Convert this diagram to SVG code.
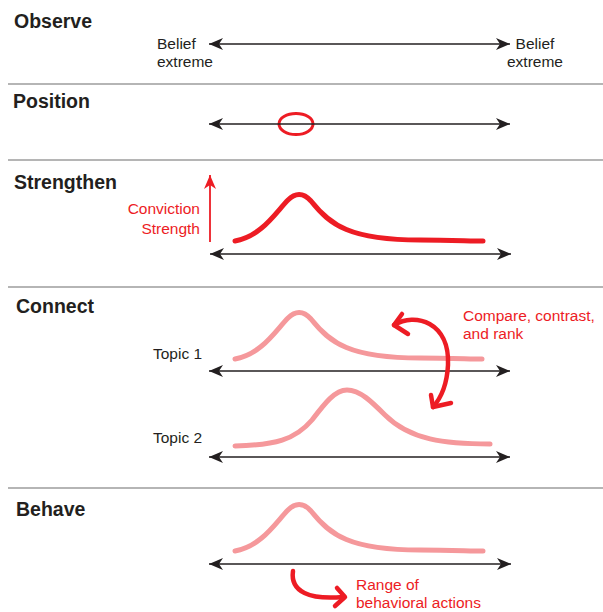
<svg xmlns="http://www.w3.org/2000/svg" width="603" height="612" viewBox="0 0 603 612">
<style>
.title{font-family:"Liberation Sans",Arial,sans-serif;font-weight:bold;font-size:19.5px;fill:#231f20}
.lbl{font-family:"Liberation Sans",Arial,sans-serif;font-size:15.5px;fill:#231f20}
.red{font-family:"Liberation Sans",Arial,sans-serif;font-size:15.5px;fill:#ed1c24}
.sep{stroke:#b5b5b5;stroke-width:2}
.axis{stroke:#231f20;stroke-width:1.6;fill:none;marker-start:url(#ah);marker-end:url(#ah)}
.curve{fill:none;stroke:#ed1c24;stroke-width:5;stroke-linecap:round}
.pink{fill:none;stroke:#f5989b;stroke-width:5;stroke-linecap:round}
.rarrow{fill:none;stroke:#ed1c24;stroke-width:4.5;stroke-linecap:round;stroke-linejoin:round}
</style>
<defs>
<marker id="ah" viewBox="-15 -7 16 14" refX="0" refY="0" markerWidth="16" markerHeight="14" orient="auto-start-reverse" markerUnits="userSpaceOnUse">
<path d="M0,0 L-14,-6 L-10,0 L-14,6 Z" fill="#231f20"/>
</marker>
<marker id="rah" viewBox="-15 -7 16 14" refX="0" refY="0" markerWidth="16" markerHeight="14" orient="auto" markerUnits="userSpaceOnUse">
<path d="M0,0 L-14,-6 L-10,0 L-14,6 Z" fill="#ed1c24"/>
</marker>
</defs>

<g id="separators">
<line class="sep" x1="8" y1="84" x2="603" y2="84"/>
<line class="sep" x1="8" y1="160" x2="603" y2="160"/>
<line class="sep" x1="8" y1="287" x2="603" y2="287"/>
<line class="sep" x1="8" y1="488" x2="603" y2="488"/>
</g>

<g id="observe">
<text class="title" x="14" y="28">Observe</text>
<text class="lbl" x="157" y="49">Belief</text>
<text class="lbl" x="157" y="67">extreme</text>
<text class="lbl" x="535" y="49" text-anchor="middle">Belief</text>
<text class="lbl" x="535" y="67" text-anchor="middle">extreme</text>
</g>

<g id="position">
<text class="title" x="13" y="108">Position</text>
<ellipse cx="296" cy="124" rx="17" ry="10.5" fill="none" stroke="#ed1c24" stroke-width="3"/>
</g>

<g id="strengthen">
<text class="title" x="14" y="189">Strengthen</text>
<text class="red" x="200" y="214" text-anchor="end">Conviction</text>
<text class="red" x="200" y="234" text-anchor="end">Strength</text>
<path class="curve" d="M235,241 C262,236 276,212 288,200 C295,193 303,192 311,201 C330,225 350,240 420,240 C450,240 470,241 483,241"/>
</g>

<g id="connect">
<text class="title" x="16" y="313">Connect</text>
<text class="lbl" x="153" y="359">Topic 1</text>
<text class="lbl" x="153" y="443">Topic 2</text>
<path class="pink" d="M235,359 C262,354 276,330 288,318 C295,311 303,310 311,319 C330,343 350,358 420,358 C450,358 470,359 482,359"/>
<path class="pink" d="M235,446 C275,445 295,440 312,420 C325,403 335,390 347,390 C360,390 372,402 385,415 C410,440 445,444 490,444"/>
<text class="red" x="463" y="321">Compare, contrast,</text>
<text class="red" x="463" y="339">and rank</text>
</g>

<g id="behave">
<text class="title" x="16" y="516">Behave</text>
<path class="pink" d="M235,551 C262,546 276,522 288,510 C295,503 303,502 311,511 C330,535 350,550 420,550 C450,550 470,551 483,551"/>
<text class="red" x="356" y="590">Range of</text>
<text class="red" x="356" y="608">behavioral actions</text>
</g>

<g id="connectors">
<line class="axis" x1="209" y1="44" x2="510" y2="44"/>
<line class="axis" x1="209" y1="124" x2="510" y2="124"/>
<line class="axis" x1="210" y1="254" x2="511" y2="254"/>
<line class="axis" x1="209" y1="371" x2="510" y2="371"/>
<line class="axis" x1="209" y1="457" x2="510" y2="457"/>
<line class="axis" x1="209" y1="564" x2="511" y2="564"/>
<line x1="210" y1="242" x2="210" y2="175" stroke="#ed1c24" stroke-width="1.8" marker-end="url(#rah)"/>
<path class="rarrow" d="M394,325 C415,312 450,322 448,365 C447,385 441,398 433,407"/>
<path class="rarrow" d="M402,314 L394,325 L408,334"/>
<path class="rarrow" d="M431,395 L433,407 L451,403"/>
<path class="rarrow" d="M293,571 C290,592 310,600 343,597"/>
<path class="rarrow" d="M337,588 L345,597 L335,606"/>
</g>
</svg>
